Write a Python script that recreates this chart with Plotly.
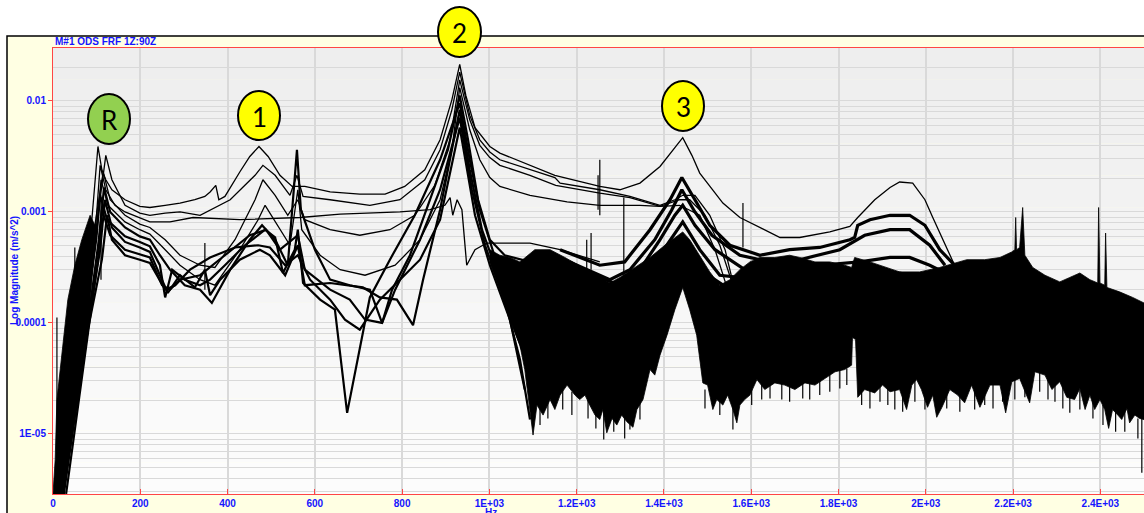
import plotly.graph_objects as go

# ODS FRF magnitudes.  Frequencies in Hz, magnitudes stored as log10(m/s^2).

c1_hz = [7, 50, 89, 103, 112, 121, 135, 165, 199, 222, 257, 291, 325, 348, 360, 373, 380, 394, 428, 451,
         472, 493, 520, 548, 577, 635, 703, 761, 806, 852, 887, 914, 932, 946, 967, 1001, 1024, 1093, 1150, 1253,
         1299, 1345, 1391, 1425, 1443, 1464, 1482, 1535, 1574, 1666, 1711, 1780, 1826, 1844, 1883, 1918, 1940,
         1970, 1998, 2016, 2044, 2066]
c1_lg = [-5.54, -4.33, -3.07, -2.41, -2.62, -2.71, -2.80, -2.89, -2.95, -2.96, -2.94, -2.92, -2.89, -2.86, -2.82,
         -2.76, -2.89, -2.86, -2.64, -2.50, -2.41, -2.50, -2.67, -2.77, -2.77, -2.82, -2.84, -2.84, -2.77, -2.62,
         -2.35, -1.99, -1.67, -1.95, -2.24, -2.41, -2.47, -2.58, -2.67, -2.77, -2.80, -2.74, -2.59, -2.42, -2.33,
         -2.49, -2.65, -2.92, -3.05, -3.23, -3.23, -3.18, -3.13, -3.05, -2.89, -2.78, -2.73, -2.74, -2.89, -3.05,
         -3.30, -3.48]

c2_hz = [16, 62, 103, 121, 135, 165, 199, 222, 257, 291, 337, 406, 463, 481, 509, 543, 559, 573, 635, 726,
         795, 852, 887, 914, 932, 955, 978, 1001, 1024, 1093, 1150, 1162, 1253, 1322, 1391, 1425, 1443, 1471,
         1505, 1540, 1562]
c2_lg = [-5.54, -4.24, -3.03, -2.49, -2.71, -2.94, -3.01, -3.03, -3.01, -3.00, -3.03, -2.89, -2.67, -2.58, -2.67,
         -2.85, -2.67, -2.86, -2.89, -2.94, -2.89, -2.71, -2.44, -2.08, -1.74, -2.13, -2.35, -2.46, -2.53, -2.62,
         -2.69, -2.74, -2.80, -2.86, -2.94, -2.89, -2.85, -2.85, -3.03, -3.34, -3.70]

c3_hz = [21, 66, 99, 108, 121, 142, 165, 199, 222, 268, 321, 428, 566, 658, 795, 864, 898, 910, 916, 926,
         937, 948, 967, 994, 1093, 1162, 1253]
c3_lg = [-5.54, -4.24, -3.07, -2.58, -2.80, -2.94, -3.00, -3.05, -3.09, -3.09, -3.05, -3.07, -3.05, -3.02, -3.00,
         -2.98, -2.94, -2.87, -3.03, -2.89, -2.98, -3.48, -3.34, -3.28, -3.28, -3.34, -3.45]

c4_hz = [11, 57, 96, 115, 131, 165, 199, 222, 257, 291, 337, 371, 417, 463, 481, 509, 538, 561, 577, 635,
         703, 772, 829, 875, 910, 932, 955, 978, 1001, 1024, 1093, 1152, 1253, 1322, 1391, 1436, 1459, 1494,
         1528, 1558]
c4_lg = [-5.54, -4.33, -3.12, -2.64, -2.89, -3.03, -3.11, -3.14, -3.25, -3.39, -3.48, -3.50, -3.25, -2.89, -2.71,
         -2.85, -3.03, -2.89, -3.07, -3.16, -3.21, -3.16, -3.03, -2.76, -2.35, -1.81, -2.17, -2.40, -2.51, -2.58,
         -2.67, -2.76, -2.83, -2.87, -2.95, -2.89, -2.89, -3.03, -3.30, -3.66]

c5_hz = [18, 62, 101, 110, 126, 165, 199, 222, 257, 291, 337, 371, 428, 470, 486, 515, 543, 561, 570, 612,
         658, 715, 784, 841, 887, 914, 932, 955, 978, 1001, 1024, 1093, 1178, 1253, 1345, 1391, 1436, 1482,
         1517, 1546]
c5_lg = [-5.54, -4.42, -3.16, -2.71, -2.94, -3.09, -3.16, -3.20, -3.34, -3.48, -3.61, -3.66, -3.34, -3.07, -2.94,
         -3.12, -3.30, -2.80, -3.16, -3.39, -3.52, -3.57, -3.48, -3.25, -2.89, -2.44, -1.88, -2.26, -2.53, -2.69,
         -2.77, -2.85, -2.91, -2.94, -2.94, -2.95, -2.94, -3.03, -3.34, -3.70]

c6_hz = [23, 69, 105, 117, 131, 165, 199, 222, 245, 268, 302, 337, 364, 406, 451, 479, 509, 538, 559, 568,
         600, 635, 680, 726, 754, 777, 818, 864, 905, 932, 951, 974, 1001, 1035, 1093, 1162]
c6_lg = [-5.54, -4.33, -3.25, -2.78, -3.00, -3.14, -3.22, -3.25, -3.39, -3.52, -3.66, -3.70, -3.82, -3.52, -3.25,
         -3.12, -3.25, -3.48, -2.44, -2.98, -3.34, -3.61, -3.66, -3.70, -4.00, -3.70, -3.39, -2.89, -2.44, -1.95,
         -2.35, -2.89, -3.25, -3.39, -3.45, -3.45]

c7_hz = [16, 66, 99, 108, 124, 165, 199, 222, 245, 257, 273, 302, 337, 360, 394, 440, 486, 509, 527, 554,
         561, 573, 612, 646, 674, 696, 726, 772, 829, 887, 932, 955, 978, 1017, 1047, 1070, 1093]
c7_lg = [-5.41, -4.15, -3.25, -2.85, -3.07, -3.22, -3.27, -3.31, -3.48, -3.77, -3.52, -3.61, -3.66, -3.61, -3.48,
         -3.30, -3.16, -3.23, -3.55, -3.34, -3.16, -3.64, -3.79, -3.88, -4.81, -4.36, -3.77, -3.43, -3.03, -2.53,
         -2.02, -2.53, -2.98, -3.46, -3.70, -3.97, -4.33]

c8_hz = [25, 71, 108, 119, 135, 165, 199, 222, 245, 263, 291, 325, 348, 360, 383, 428, 474, 497, 532, 561,
         577, 635, 710, 749, 788, 825, 848, 887, 932, 955, 983, 1024, 1058, 1086, 1100]
c8_lg = [-5.54, -4.24, -3.34, -2.89, -3.14, -3.27, -3.32, -3.36, -3.57, -3.73, -3.57, -3.68, -3.52, -3.75, -3.61,
         -3.43, -3.34, -3.39, -3.57, -3.30, -3.66, -3.64, -3.68, -3.77, -3.79, -4.02, -3.61, -2.98, -2.08, -2.62,
         -3.16, -3.61, -4.06, -4.36, -4.69]

c9_hz = [30, 76, 103, 112, 131, 165, 199, 222, 250, 268, 291, 337, 394, 451, 488, 520, 561, 577, 635, 680,
         715, 754, 784, 841, 887, 932, 960, 990, 1035, 1070, 1093]
c9_lg = [-5.54, -4.24, -3.43, -2.98, -3.21, -3.34, -3.38, -3.41, -3.66, -3.70, -3.61, -3.57, -3.39, -3.21, -3.16,
         -3.34, -3.21, -3.52, -3.70, -3.79, -3.97, -4.00, -3.70, -3.25, -2.80, -2.15, -2.80, -3.30, -3.79, -4.33,
         -4.87]

c10_hz = [27, 80, 112, 124, 135, 165, 199, 222, 257, 280, 314, 360, 417, 470, 497, 532, 561, 589, 635, 669,
          703, 749, 795, 841, 887, 932, 967, 1001, 1047, 1081]
c10_lg = [-5.41, -4.06, -3.43, -3.03, -3.25, -3.39, -3.43, -3.46, -3.70, -3.66, -3.52, -3.41, -3.32, -3.30, -3.32,
          -3.48, -3.39, -3.61, -3.79, -3.97, -4.06, -3.79, -3.61, -3.43, -3.07, -2.24, -3.03, -3.48, -3.97, -4.60]

# noisy responses around mode 3 and the 1.9 kHz hump
t1_hz = [1162, 1253, 1310, 1368, 1414, 1441, 1471, 1505, 1551, 1620, 1688, 1757, 1826, 1837, 1844, 1872, 1918,
         1963, 1998, 2032, 2066]
t1_lg = [-3.34, -3.48, -3.45, -3.16, -2.89, -2.69, -2.89, -3.12, -3.30, -3.39, -3.34, -3.32, -3.25, -3.23, -3.12,
         -3.07, -3.03, -3.03, -3.12, -3.34, -3.48]
t2_hz = [1184, 1276, 1322, 1379, 1418, 1441, 1471, 1510, 1574, 1643, 1711, 1803, 1860, 1918, 1963, 2009, 2044]
t2_lg = [-3.45, -3.61, -3.52, -3.25, -2.98, -2.80, -3.00, -3.21, -3.39, -3.45, -3.43, -3.34, -3.21, -3.16, -3.16,
         -3.30, -3.48]
t3_hz = [1207, 1299, 1345, 1391, 1425, 1443, 1471, 1517, 1585, 1666, 1757, 1849, 1918, 1963, 2009, 2055]
t3_lg = [-3.52, -3.66, -3.52, -3.25, -3.03, -2.94, -3.12, -3.34, -3.52, -3.52, -3.48, -3.45, -3.41, -3.41, -3.48,
         -3.57]
t4_hz = [1230, 1317, 1368, 1414, 1443, 1482, 1528, 1620, 1711, 1849, 1940, 2009]
t4_lg = [-3.61, -3.75, -3.52, -3.25, -3.09, -3.34, -3.57, -3.61, -3.59, -3.57, -3.55, -3.61]
t5_hz = [1253, 1345, 1402, 1436, 1482, 1551]
t5_lg = [-3.70, -3.66, -3.43, -3.34, -3.52, -3.70]

# envelope of the noise floor above ~1 kHz
floor_hi_hz = [1001, 1024, 1047, 1070, 1104, 1139, 1173, 1214, 1253, 1276, 1299, 1333, 1368, 1402, 1425, 1443,
               1459, 1482, 1505, 1528, 1551, 1574, 1597, 1620, 1654, 1688, 1711, 1746, 1780, 1814, 1830, 1837,
               1872, 1940, 1986, 2032, 2066, 2094, 2135, 2170, 2197, 2204, 2206, 2208, 2215, 2222, 2227, 2245,
               2273, 2307, 2330, 2353, 2376, 2394, 2396, 2399, 2410, 2412, 2415, 2444, 2474, 2500]
floor_hi_lg = [-3.34, -3.39, -3.41, -3.45, -3.34, -3.34, -3.41, -3.50, -3.59, -3.64, -3.59, -3.50, -3.41, -3.30,
               -3.23, -3.18, -3.25, -3.39, -3.54, -3.66, -3.61, -3.52, -3.45, -3.41, -3.41, -3.39, -3.41, -3.45,
               -3.45, -3.48, -3.50, -3.41, -3.45, -3.54, -3.54, -3.50, -3.46, -3.43, -3.43, -3.41, -3.36, -3.34,
               -3.05, -3.34, -3.32, -2.96, -3.39, -3.50, -3.57, -3.63, -3.59, -3.55, -3.61, -3.64, -2.96, -3.64,
               -3.66, -3.19, -3.68, -3.72, -3.77, -3.82]
floor_lo_hz = [1001, 1024, 1047, 1070, 1081, 1093, 1100, 1109, 1123, 1139, 1150, 1162, 1178, 1196, 1207, 1219,
               1230, 1242, 1253, 1260, 1269, 1281, 1292, 1303, 1315, 1329, 1338, 1352, 1368, 1379, 1391, 1407,
               1425, 1443, 1459, 1475, 1489, 1500, 1512, 1521, 1535, 1546, 1558, 1567, 1574, 1585, 1597, 1613,
               1631, 1654, 1677, 1700, 1723, 1746, 1769, 1792, 1814, 1830, 1832, 1839, 1844, 1860, 1883, 1901,
               1918, 1940, 1956, 1968, 1979, 1990, 2004, 2016, 2025, 2037, 2055, 2073, 2089, 2105, 2124, 2147,
               2170, 2183, 2197, 2215, 2238, 2250, 2273, 2289, 2307, 2323, 2341, 2353, 2365, 2376, 2387, 2399,
               2410, 2419, 2428, 2440, 2449, 2461, 2467, 2479, 2490, 2500]
floor_lo_lg = [-3.45, -3.70, -3.97, -4.20, -4.42, -4.78, -5.01, -4.74, -4.83, -4.69, -4.78, -4.65, -4.56, -4.65,
               -4.69, -4.65, -4.74, -4.83, -4.87, -4.78, -4.99, -4.86, -4.92, -4.83, -4.89, -4.94, -4.78, -4.69,
               -4.42, -4.47, -4.29, -4.11, -3.88, -3.68, -3.88, -4.11, -4.54, -4.56, -4.78, -4.69, -4.74, -4.65,
               -4.78, -4.90, -4.74, -4.69, -4.65, -4.51, -4.60, -4.54, -4.56, -4.60, -4.54, -4.56, -4.50, -4.44,
               -4.42, -4.38, -4.13, -4.15, -4.67, -4.60, -4.63, -4.56, -4.62, -4.60, -4.78, -4.56, -4.51, -4.60,
               -4.76, -4.65, -4.85, -4.76, -4.60, -4.65, -4.72, -4.56, -4.76, -4.56, -4.56, -4.81, -4.53, -4.50,
               -4.72, -4.44, -4.47, -4.60, -4.53, -4.67, -4.69, -4.59, -4.78, -4.65, -4.78, -4.69, -4.78, -4.95,
               -4.78, -4.83, -4.87, -4.77, -4.90, -4.83, -4.86, -4.87]

# fine dropouts hanging below the noise floor (frequency, start, end)
drop_hz = [1116, 1134, 1168, 1189, 1226, 1244, 1262, 1285, 1310, 1322, 1345, 1494, 1528, 1558, 1601, 1624,
           1643, 1670, 1688, 1718, 1734, 1757, 1780, 1803, 1819, 1853, 1872, 1895, 1913, 1929, 1947, 1975,
           1998, 2048, 2078, 2112, 2135, 2154, 2176, 2204, 2227, 2261, 2280, 2296, 2314, 2330, 2353, 2383,
           2406, 2435, 2456, 2486]
drop_top_lg = [-4.69, -4.69, -4.60, -4.62, -4.69, -4.74, -4.78, -4.83, -4.83, -4.83, -4.69, -4.60, -4.65, -4.69,
               -4.60, -4.51, -4.51, -4.51, -4.54, -4.51, -4.51, -4.50, -4.44, -4.41, -4.41, -4.60, -4.59, -4.56,
               -4.59, -4.59, -4.60, -4.51, -4.60, -4.60, -4.65, -4.60, -4.59, -4.56, -4.56, -4.51, -4.50, -4.44,
               -4.50, -4.56, -4.56, -4.65, -4.60, -4.69, -4.74, -4.80, -4.80, -4.86]
drop_bot_lg = [-4.92, -4.86, -4.78, -4.83, -4.86, -4.95, -5.05, -4.98, -5.04, -4.96, -4.87, -4.77, -4.83, -4.96,
               -4.74, -4.69, -4.68, -4.69, -4.71, -4.68, -4.69, -4.65, -4.62, -4.59, -4.56, -4.74, -4.77, -4.71,
               -4.74, -4.78, -4.80, -4.71, -4.78, -4.77, -4.80, -4.78, -4.74, -4.77, -4.71, -4.69, -4.67, -4.62,
               -4.69, -4.71, -4.77, -4.81, -4.78, -4.86, -4.92, -4.98, -4.98, -5.04]

# band covered by the overlapping low-frequency rise (left edge, then right edge)
rise_left_hz = [0, 5, 9, 21, 34, 50, 66, 85]
rise_left_lg = [-5.54, -5.23, -4.69, -4.24, -3.79, -3.48, -3.25, -3.03]
rise_right_hz = [101, 89, 80, 62, 44, 30, 23]
rise_right_lg = [-3.16, -3.61, -4.09, -4.60, -4.96, -5.32, -5.54]

# isolated spikes (frequency, top, bottom)
spike_hz = [9, 50, 69, 110, 348, 1223, 1233, 1249, 1253, 1308, 1581, 2495]
spike_top_lg = [-3.95, -3.32, -3.34, -2.89, -3.28, -3.25, -3.19, -2.67, -2.53, -2.87, -2.92, -4.69]
spike_bot_lg = [-5.50, -3.88, -3.79, -3.61, -3.70, -3.52, -3.52, -2.98, -3.03, -3.64, -3.32, -5.35]

x_ticks = [0, 200, 400, 600, 800, 1000, 1200, 1400, 1600, 1800, 2000, 2200, 2400]
x_labels = ["0", "200", "400", "600", "800", "1E+03", "1.2E+03", "1.4E+03", "1.6E+03", "1.8E+03",
            "2E+03", "2.2E+03", "2.4E+03"]
y_ticks = [1e-2, 1e-3, 1e-4, 1e-5]
y_labels = ["0.01", "0.001", "0.0001", "1E-05"]
y_minor = [m * 10.0 ** e for e in range(-6, -1) for m in range(2, 10)]


def mag(lg):
    return [10.0 ** v for v in lg]


def bold(s):
    return "<b>" + s + "</b>"


BLUE = "#1414ff"
RED = "#ff4545"
GRID = "#d9d9d9"
W, H = 1144, 513
L, R, T, B = 53, 0, 48, 19
PW, PH = W - L - R, H - T - B


def px(xp):
    return (xp - L) / PW


def py(yp):
    return (H - B - yp) / PH


fig = go.Figure()

# noise floor and low-frequency band
fig.add_trace(go.Scatter(
    x=floor_hi_hz + floor_lo_hz[::-1],
    y=mag(floor_hi_lg + floor_lo_lg[::-1]),
    fill="toself", fillcolor="black", mode="lines",
    line=dict(color="black", width=0.8), hoverinfo="skip"))
fig.add_trace(go.Scatter(
    x=rise_left_hz + rise_right_hz,
    y=mag(rise_left_lg + rise_right_lg),
    fill="toself", fillcolor="black", mode="lines",
    line=dict(color="black", width=0.8), hoverinfo="skip"))

thin = [(c1_hz, c1_lg), (c2_hz, c2_lg), (c3_hz, c3_lg), (c4_hz, c4_lg), (c5_hz, c5_lg)]
mid = [(c6_hz, c6_lg), (c7_hz, c7_lg), (c8_hz, c8_lg), (c9_hz, c9_lg), (c10_hz, c10_lg)]
thick = [(t1_hz, t1_lg), (t2_hz, t2_lg), (t3_hz, t3_lg), (t4_hz, t4_lg), (t5_hz, t5_lg)]

for hz, lg in thick:
    fig.add_trace(go.Scatter(x=hz, y=mag(lg), mode="lines",
                             line=dict(color="black", width=3.2), hoverinfo="skip"))
for hz, lg in mid:
    fig.add_trace(go.Scatter(x=hz, y=mag(lg), mode="lines",
                             line=dict(color="black", width=2.2), hoverinfo="skip"))
for hz, lg in thin:
    fig.add_trace(go.Scatter(x=hz, y=mag(lg), mode="lines",
                             line=dict(color="black", width=1.3), hoverinfo="skip"))


def segments(fs, tops, bots):
    sx, sy = [], []
    for f, a, b in zip(fs, tops, bots):
        sx += [f, f, None]
        sy += [10.0 ** a, 10.0 ** b, None]
    return sx, sy


for fs, tops, bots in [(spike_hz, spike_top_lg, spike_bot_lg), (drop_hz, drop_top_lg, drop_bot_lg)]:
    sx, sy = segments(fs, tops, bots)
    fig.add_trace(go.Scatter(x=sx, y=sy, mode="lines",
                             line=dict(color="black", width=1.2), hoverinfo="skip"))

# frame and plot-area shading
shapes = [dict(type="rect", xref="paper", yref="paper", layer="below",
               x0=px(7), x1=1.05, y0=-0.2, y1=py(36),
               fillcolor="#ffffe3", line=dict(color="black", width=1.5))]
shades = ["#eeeeee", "#efefef", "#f0f0f0", "#f1f1f1", "#f2f2f2", "#f3f3f3", "#f4f4f4",
          "#f5f5f5", "#f7f7f7", "#f8f8f8", "#f9f9f9", "#fafafa", "#fbfbfb", "#fcfcfc"]
n = len(shades)
for i, c in enumerate(shades):
    shapes.append(dict(type="rect", xref="paper", yref="paper", layer="below",
                       x0=0, x1=1, y0=1 - (i + 1) / n, y1=1 - i / n,
                       fillcolor=c, line=dict(width=0)))

# mode markers
markers = [("R", "#92d050", 88, 130, 94, 144),
           ("1", "#ffff00", 238, 280, 91, 140),
           ("2", "#ffff00", 438, 481, 7, 57),
           ("3", "#ffff00", 662, 704, 81, 131)]
annotations = []
for label, color, x0, x1, y0, y1 in markers:
    shapes.append(dict(type="circle", xref="paper", yref="paper", layer="above",
                       x0=px(x0), x1=px(x1), y0=py(y1), y1=py(y0),
                       fillcolor=color, line=dict(color="black", width=2)))
    annotations.append(dict(text=label, xref="paper", yref="paper",
                            x=px((x0 + x1) / 2), y=py((y0 + y1) / 2 + 1),
                            showarrow=False, xanchor="center", yanchor="middle",
                            font=dict(family="Lato", size=26, color="black")))

label_font = dict(family="Liberation Sans", size=10, color=BLUE)
annotations += [
    dict(text=bold("M#1 ODS FRF 1Z:90Z"), xref="paper", yref="paper", x=0, y=py(42),
         xanchor="left", yanchor="middle", showarrow=False, font=label_font),
    dict(text=bold("Log Magnitude (m/s^2)"), xref="paper", yref="paper", x=px(14), y=0.5,
         textangle=-90, xanchor="center", yanchor="middle", showarrow=False, font=label_font),
    dict(text=bold("Hz"), xref="paper", yref="paper", x=px(491), y=py(505),
         xanchor="center", yanchor="top", showarrow=False, font=label_font),
]

tickfont = dict(family="Liberation Sans", size=10, color=BLUE)

fig.update_layout(
    width=W, height=H,
    margin=dict(l=L, r=R, t=T, b=B, pad=0),
    paper_bgcolor="white", plot_bgcolor="#f3f3f3",
    showlegend=False,
    shapes=shapes, annotations=annotations,
    xaxis=dict(range=[0, 2500], tickmode="array", tickvals=x_ticks,
               ticktext=[bold(s) for s in x_labels],
               showgrid=True, gridcolor=GRID, gridwidth=1.5, zeroline=False,
               showline=True, linecolor=RED, linewidth=1, mirror=True,
               ticks="inside", ticklen=5, tickcolor=RED, tickfont=tickfont),
    yaxis=dict(type="log", range=[-5.541, -1.523], tickmode="array", tickvals=y_ticks,
               ticktext=[bold(s) for s in y_labels],
               showgrid=True, gridcolor=GRID, gridwidth=1.3, zeroline=False,
               showline=True, linecolor=RED, linewidth=1,
               ticks="outside", ticklen=4, tickcolor=RED, tickfont=tickfont,
               minor=dict(tickmode="array", tickvals=y_minor, showgrid=True,
                          gridcolor=GRID, gridwidth=1.2, ticks="")),
)

fig.write_html("out.html")
